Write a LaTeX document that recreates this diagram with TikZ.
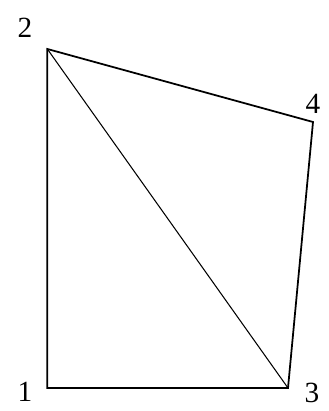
\documentclass[tikz,border=0pt]{standalone}
\usepackage{fontspec}
\setmainfont{Liberation Serif}
\usepackage{tikz}
\usetikzlibrary{positioning}
\tikzset{
    vertLabel/.style={
        inner sep=0pt,
        font=\fontsize{25}{28}\selectfont
    },
    edgeLine/.style={
        line width=1.5pt,
        line join=miter
    }
}

\begin{document}
\begin{tikzpicture}
            \useasboundingbox (0,0) rectangle (9.84,12.33);
            % Coordinates
            \coordinate (v1) at (1.42,0.69);
            \coordinate (v2) at (1.42,10.86);
            \coordinate (v3) at (8.64,0.69);
            \coordinate (v4) at (9.39,8.67);
            
            % Outline
            \draw[edgeLine] (v1) -- (v2) -- (v4) -- (v3) -- cycle;
            
            % Diagonal
            \draw[line width=0.9pt] (v2) -- (v3);
            
            % Labels
            \node[vertLabel] (L1) at (0.75,0.57) {1};
            \node[vertLabel] (L2) at (0.75,11.49) {2};
            \node[vertLabel] (L3) at (9.36,0.54) {3};
            \node[vertLabel] (L4) at (9.39,9.21) {4};
        \end{tikzpicture}
\end{document}
